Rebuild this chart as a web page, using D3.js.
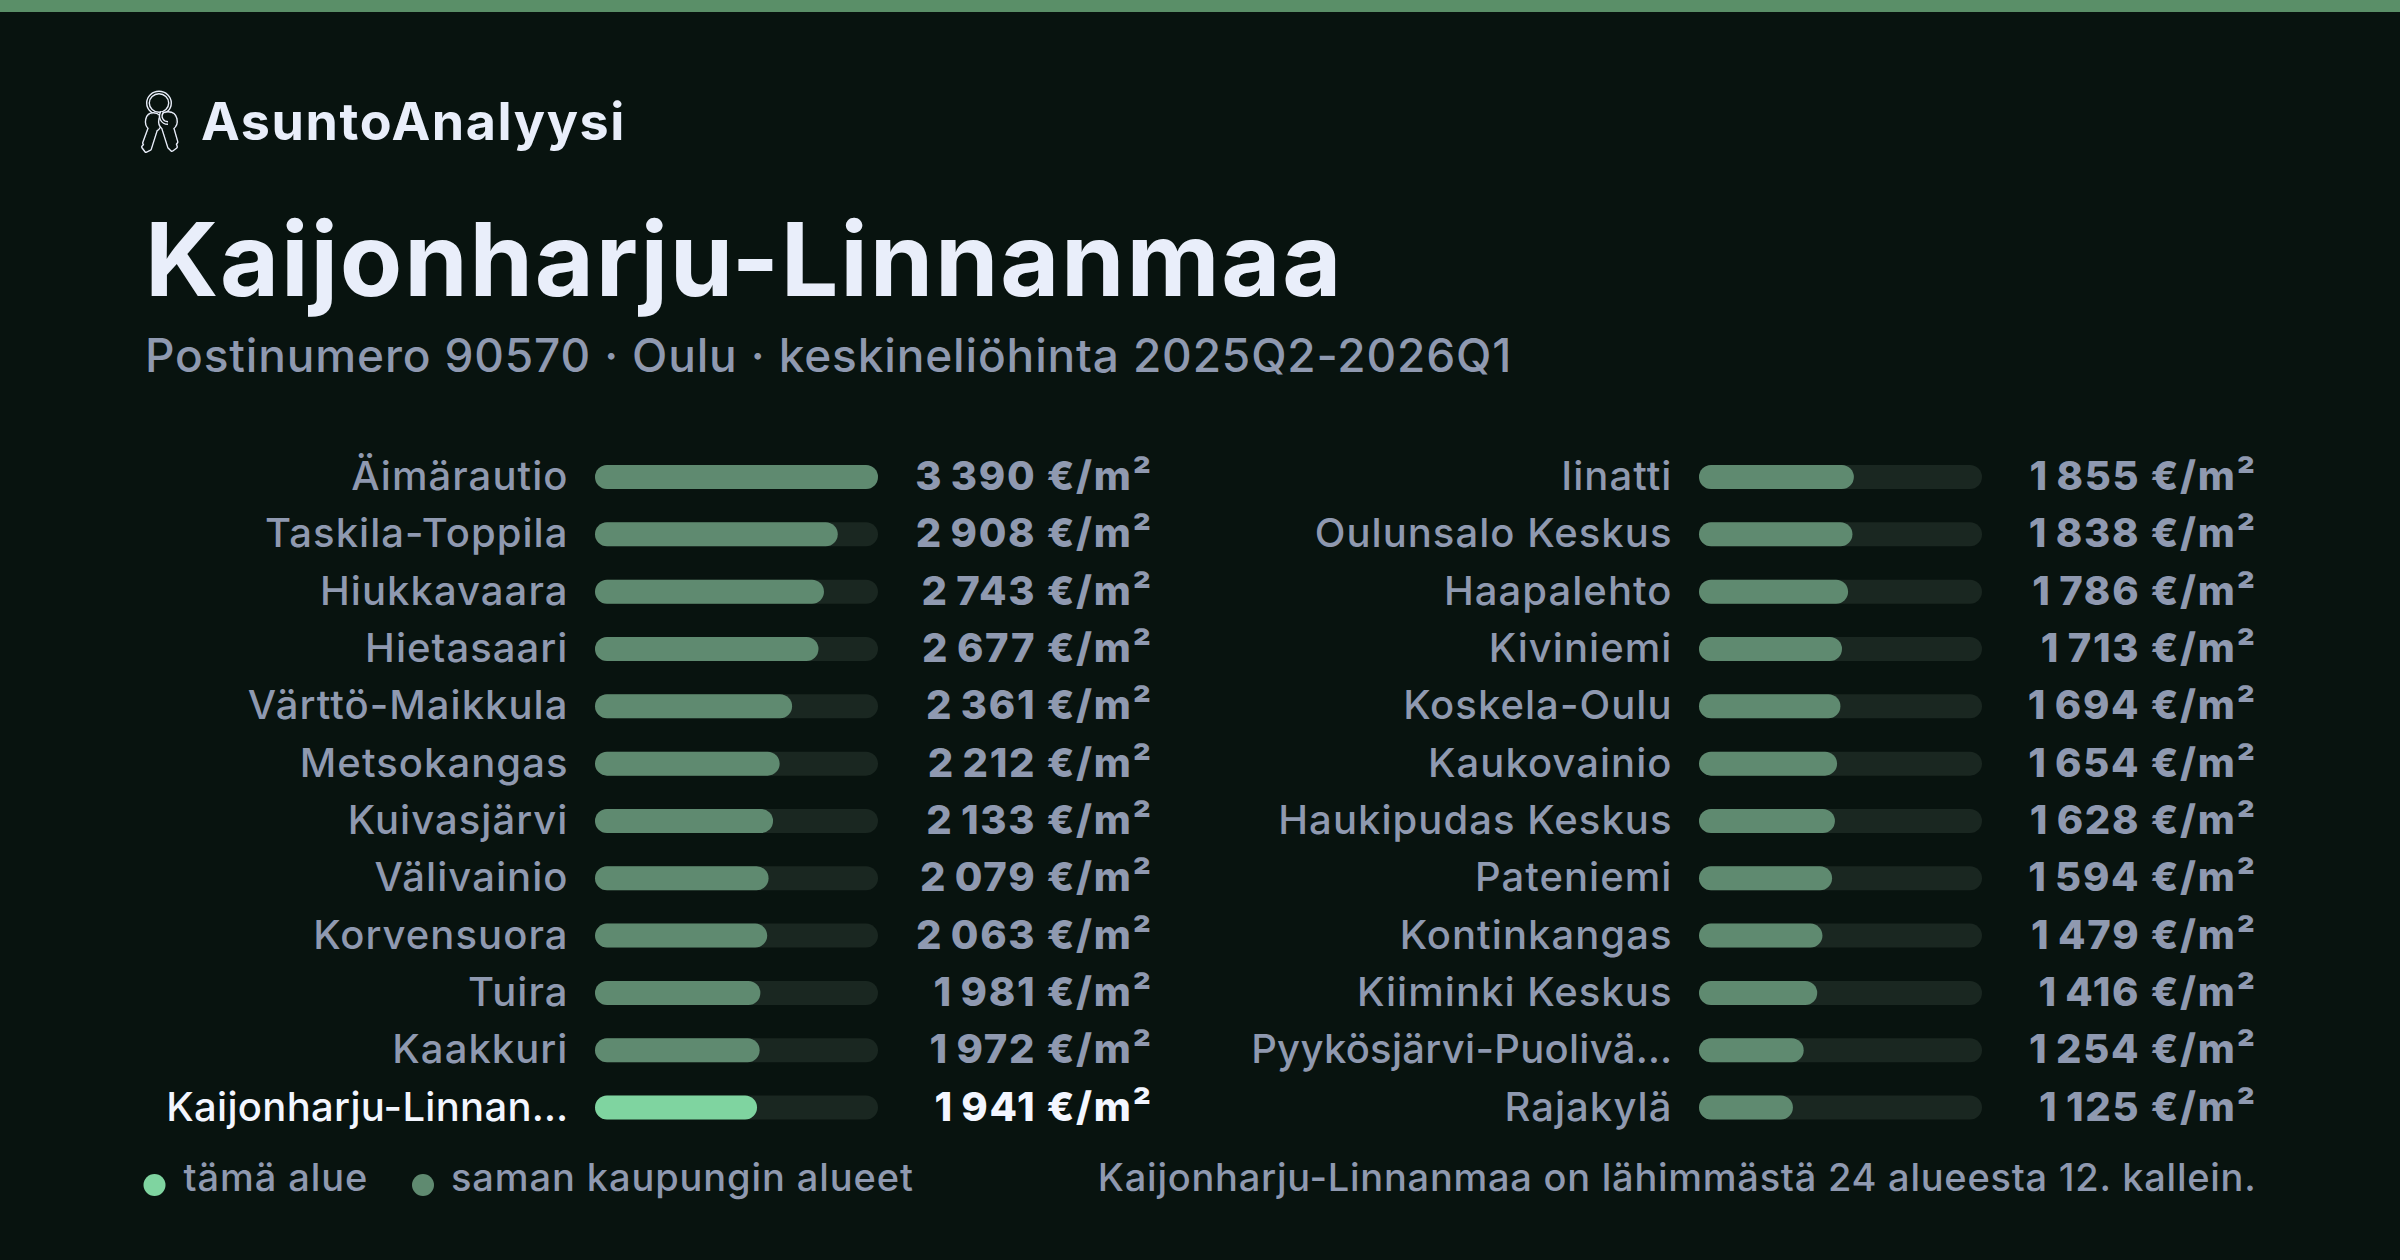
<!DOCTYPE html>
<html><head><meta charset="utf-8">
<script src="https://cdn.jsdelivr.net/npm/d3@7"></script>
<style>html,body{margin:0;padding:0;background:#08130f}svg{display:block}text{font-family:Inter,"Noto Sans",sans-serif}</style>
</head><body><svg id="c" width="2400" height="1260"></svg>
<script>
const namesLeft=["Äimärautio","Taskila-Toppila","Hiukkavaara","Hietasaari","Värttö-Maikkula","Metsokangas","Kuivasjärvi","Välivainio","Korvensuora","Tuira","Kaakkuri","Kaijonharju-Linnan…"];
const valuesLeft=[3390,2908,2743,2677,2361,2212,2133,2079,2063,1981,1972,1941];
const namesRight=["Iinatti","Oulunsalo Keskus","Haapalehto","Kiviniemi","Koskela-Oulu","Kaukovainio","Haukipudas Keskus","Pateniemi","Kontinkangas","Kiiminki Keskus","Pyykösjärvi-Puolivä…","Rajakylä"];
const valuesRight=[1855,1838,1786,1713,1694,1654,1628,1594,1479,1416,1254,1125];
const highlighted="Kaijonharju-Linnan…";
const brand="AsuntoAnalyysi",title="Kaijonharju-Linnanmaa",subtitle="Postinumero 90570 · Oulu · keskineliöhinta 2025Q2-2026Q1";
const legendLabels=["tämä alue","saman kaupungin alueet"];
const footnote="Kaijonharju-Linnanmaa on lähimmästä 24 alueesta 12. kallein.";
const C={bg:"#08130f",top:"#5a8f68",bar:"#5f8a70",hi:"#7fd4a0",track:"#1a2721",txt:"#8f99b0",white:"#e9eefa",hiTxt:"#f3f6ff"};
const svg=d3.select("#c");
const fmt=d3.formatLocale({decimal:",",thousands:"\u2009",grouping:[3],currency:["","€"]}).format(",d");
svg.append("rect").attr("width",2400).attr("height",1260).attr("fill",C.bg);
svg.append("rect").attr("width",2400).attr("height",12).attr("fill",C.top);
// icon: ring and two keys, drawn as a double outline
const ic=svg.append("g").attr("transform","translate(159,103)");
const leftKey="M-5.5,11 C-13,11 -14,21 -9.5,25 L-15,40 L-14,42 L-16,44 L-13,48 L-9,46 L-3,27 C3,24 3,11 -5.5,11Z";
const rightKey="M9,10 C0,10 -1,21 4,25 L10,44 L13,47 L17,44 L16,41 L17.5,39 L13.5,25 C19,21 18,10 9,10Z";
const outline=[[4,"#e9eefa"],[1.2,C.bg]];
outline.forEach(([w,c])=>{
  ic.append("ellipse").attr("rx",11).attr("ry",10.5).attr("fill","none").attr("stroke",c).attr("stroke-width",w);
});
[leftKey,rightKey].forEach(d=>{
  outline.forEach(([w,c])=>{
    ic.append("path").attr("d",d).attr("fill",C.bg).attr("stroke",c).attr("stroke-width",w).attr("stroke-linejoin","round");
  });
});
outline.forEach(([w,c])=>{
  ic.append("path").attr("d","M3,9 C0,14 3,20 9,20").attr("fill","none").attr("stroke",c).attr("stroke-width",w);
});
const t=(x,y,s,size,weight,fill,anchor,ls)=>svg.append("text").attr("x",x).attr("y",y).attr("font-size",size).attr("font-weight",weight).attr("fill",fill).attr("text-anchor",anchor||"start").attr("letter-spacing",ls||0).text(s);
t(201,139.5,brand,52,700,C.white,"start",1.6);
t(145,296,title,102,700,C.white,"start",1.75);
t(145,371.5,subtitle,46,450,C.txt,"start",0.85);
const y=d3.scalePoint().domain(d3.range(12)).range([477,1107.6]);
const barW=d3.scaleLinear().domain([0,d3.max(valuesLeft)]).range([0,283]);
function col(names,values,x0,labelX,valX){
  const g=svg.append("g");
  const rows=g.selectAll("g").data(names.map((n,i)=>({n,v:values[i],i}))).join("g").attr("transform",d=>`translate(0,${y(d.i)})`);
  rows.append("rect").attr("x",x0).attr("y",-12).attr("width",barW.range()[1]).attr("height",24).attr("rx",12).attr("fill",C.track);
  rows.append("rect").attr("x",x0).attr("y",-12).attr("width",d=>barW(d.v)).attr("height",24).attr("rx",12).attr("fill",d=>d.n===highlighted?C.hi:C.bar);
  rows.append("text").attr("x",labelX).attr("y",13).attr("text-anchor","end").attr("font-size",40).attr("font-weight",450).attr("letter-spacing",d=>d.n.endsWith("…")?0.3:1.05).attr("fill",d=>d.n===highlighted?C.hiTxt:C.txt).text(d=>d.n);
  rows.append("text").attr("x",valX).attr("y",13).attr("text-anchor","end").attr("font-size",40).attr("font-weight",800).attr("letter-spacing",1.7).attr("fill",d=>d.n===highlighted?C.hiTxt:C.txt).text(d=>fmt(d.v)+" €/m²");
}
col(namesLeft,valuesLeft,595,568.5,1153);
col(namesRight,valuesRight,1699,1672.5,2257);
[[154.5,C.hi,183.6],[423,C.bar,451]].forEach(([x,c,tx],i)=>{
  svg.append("circle").attr("cx",x).attr("cy",1185).attr("r",11).attr("fill",c);
  t(tx,1191,legendLabels[i],38,450,C.txt,"start",0.9);
});
t(2256.5,1191,footnote,38,450,C.txt,"end",0.75);
</script></body></html>
